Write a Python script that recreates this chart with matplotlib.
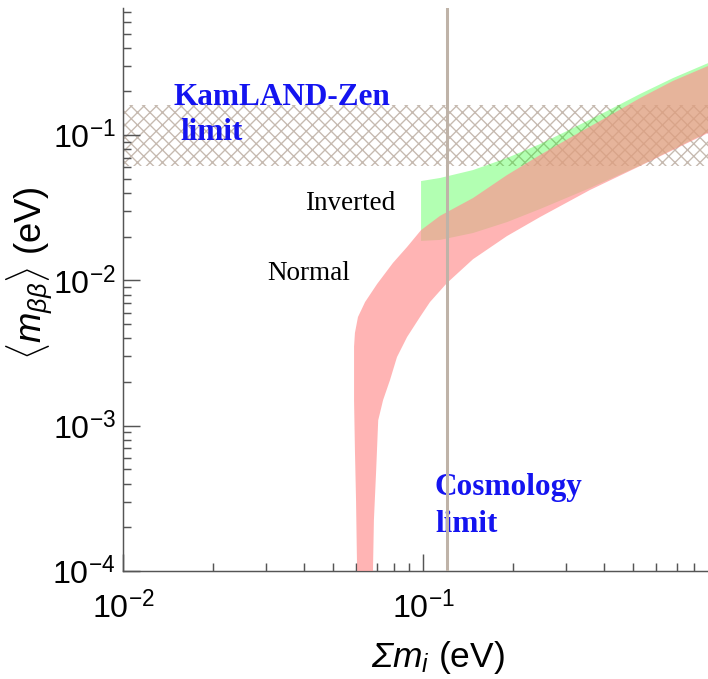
import numpy as np
import matplotlib
matplotlib.use("Agg")
import matplotlib.pyplot as plt

plt.rcParams["font.family"] = "Liberation Sans"
plt.rcParams["mathtext.fontset"] = "custom"
# rm italic too, so that the capital Sigma comes out slanted like the original
plt.rcParams["mathtext.rm"] = "Liberation Sans:italic"
plt.rcParams["mathtext.it"] = "Liberation Sans:italic"
plt.rcParams["mathtext.bf"] = "Liberation Sans:bold"
plt.rcParams["hatch.linewidth"] = 1.3

# band outlines (eV)
normal_upper_x = [0.0603, 0.0598, 0.0593, 0.0589, 0.0589, 0.0593, 0.0607, 0.0641, 0.0703, 0.0794,
                  0.0885, 0.0985, 0.1139, 0.1468, 0.1905, 0.2455, 0.3162, 0.4105, 0.529, 0.681, 0.891]
normal_upper_y = [1.0e-4, 3.1e-4, 6.8e-4, 1.5e-3, 3.5e-3, 4.35e-3, 5.6e-3, 7.1e-3, 9.45e-3, 0.0132,
                  0.0170, 0.0222, 0.0278, 0.0369, 0.0531, 0.0730, 0.0986, 0.1332, 0.180, 0.236, 0.299]
normal_lower_x = [0.0681, 0.0686, 0.0698, 0.0709, 0.0736, 0.0776, 0.0819, 0.0885, 0.0977, 0.1055,
                  0.1202, 0.1468, 0.1905, 0.2455, 0.360, 0.529, 0.891]
normal_lower_y = [1.0e-4, 2.24e-4, 4.95e-4, 1.09e-3, 1.5e-3, 2.06e-3, 2.97e-3, 4.08e-3, 5.6e-3, 7.1e-3,
                  9.6e-3, 0.0140, 0.0202, 0.0273, 0.0419, 0.0613, 0.1034]

inverted_upper_x = [0.0985, 0.1139, 0.1468, 0.1905, 0.2455, 0.3162, 0.4105, 0.529, 0.681, 0.891]
inverted_upper_y = [0.0483, 0.0507, 0.0575, 0.0696, 0.0868, 0.1119, 0.1465, 0.192, 0.247, 0.313]
inverted_lower_x = [0.0985, 0.1139, 0.1468, 0.1905, 0.2455, 0.360, 0.529, 0.891]
inverted_lower_y = [0.0187, 0.0190, 0.0212, 0.0252, 0.0310, 0.0432, 0.0618, 0.105]

kamland_limit = (0.0615, 0.161)
cosmology_limit = 0.12
x_range = (0.01, 0.891)
y_range = (1e-4, 0.75)

DPI = 75
fig = plt.figure(figsize=(708 / DPI, 679 / DPI), dpi=DPI)
ax = fig.add_axes([123 / 708, 108 / 679, 585 / 708, 563 / 679])
ax.set_xscale("log")
ax.set_yscale("log")
ax.set_xlim(*x_range)
ax.set_ylim(*y_range)

# KamLAND-Zen hatched band
ax.axhspan(*kamland_limit, facecolor="none", edgecolor="#c6bab0", hatch="xx", linewidth=0, zorder=1)

# inverted (green) then normal (pink) ordering
ax.fill(np.r_[inverted_upper_x, inverted_lower_x[::-1]], np.r_[inverted_upper_y, inverted_lower_y[::-1]],
        color="#00ff00", alpha=0.3, linewidth=0, zorder=2)
ax.fill(np.r_[normal_upper_x, normal_lower_x[::-1]], np.r_[normal_upper_y, normal_lower_y[::-1]],
        color="#ff9191", alpha=0.68, linewidth=0, zorder=3)

ax.axvline(cosmology_limit, color="#bfb3a8", linewidth=2.9, zorder=4)

serif = "Liberation Serif"
ax.text(0.01468, 0.161, "KamLAND-Zen", color="#1414f0", fontsize=30, fontweight="bold", family=serif)
ax.text(0.01549, 0.0925, "limit", color="#1414f0", fontsize=30, fontweight="bold", family=serif)
ax.text(0.1096, 3.33e-4, "Cosmology", color="#1414f0", fontsize=30, fontweight="bold", family=serif)
ax.text(0.1096, 1.855e-4, "limit", color="#1414f0", fontsize=30, fontweight="bold", family=serif)
ax.text(0.0404, 0.0305, "Inverted", color="black", fontsize=26, family=serif)
ax.text(0.0302, 0.01006, "Normal", color="black", fontsize=26, family=serif)

for side in ("top", "right"):
    ax.spines[side].set_visible(False)
for side in ("left", "bottom"):
    ax.spines[side].set_color("#555555")
    ax.spines[side].set_linewidth(1.4)

ax.tick_params(which="both", direction="in", color="#555555", width=1.4, labelsize=31)
ax.tick_params(which="major", length=16)
ax.tick_params(which="minor", length=8)
ax.tick_params(axis="y", which="major", pad=7)
ax.tick_params(axis="x", which="major", pad=19)

ax.set_ylabel(r"$\langle m_{\beta\beta}\rangle$ (eV)", fontsize=35)
ax.yaxis.set_label_coords(-0.117, 0.529)
ax.set_xlabel(r"$\Sigma m_i$ (eV)", fontsize=34)
ax.xaxis.set_label_coords(0.538, -0.12)

fig.savefig("out.png", dpi=DPI)
